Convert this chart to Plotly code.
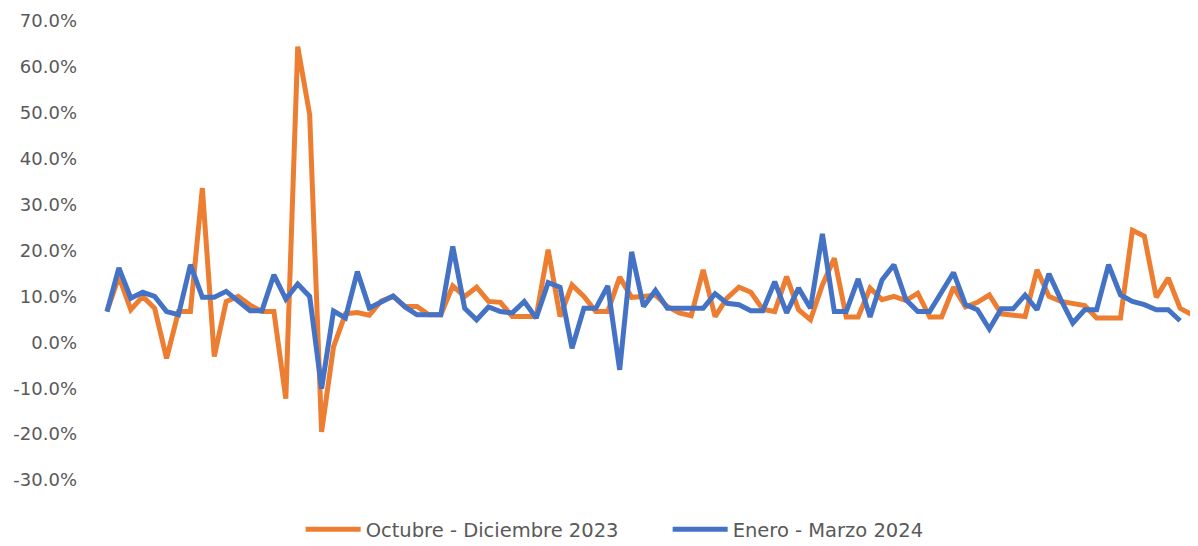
import plotly.graph_objects as go

# Daily variation (percent)
oct_dic_2023 = [6.7, 14.3, 7.1, 10.0, 7.4, -3.5, 6.7, 6.7, 33.6, -3.1,
                8.9, 10.0, 8.1, 6.7, 6.7, -12.3, 64.4, 49.6, -19.5, -1.0,
                6.2, 6.5, 5.9, 9.0, 10.0, 7.8, 7.8, 6.0, 6.0, 12.3,
                10.0, 12.0, 8.9, 8.7, 5.6, 5.6, 5.6, 20.2, 5.6, 12.5,
                10.0, 6.7, 6.7, 14.2, 9.8, 10.0, 10.3, 7.8, 6.4, 5.8,
                15.8, 5.6, 9.6, 12.0, 10.9, 7.2, 6.7, 14.3, 7.1, 4.9,
                12.5, 18.3, 5.5, 5.5, 11.8, 9.3, 10.0, 9.1, 10.7, 5.5,
                5.5, 12.0, 7.7, 8.7, 10.3, 6.2, 6.0, 5.6, 15.8, 10.0,
                8.9, 8.5, 8.0, 5.3, 5.3, 5.3, 24.4, 23.1, 9.8, 14.0,
                7.4, 6.0]

ene_mar_2024 = [6.7, 16.2, 9.6, 10.9, 10.0, 6.7, 6.0, 16.9, 9.8, 9.8,
                11.1, 9.0, 6.9, 6.9, 14.7, 9.4, 12.7, 10.0, -10.1, 6.8,
                5.3, 15.4, 7.5, 8.8, 10.1, 7.7, 6.0, 6.0, 6.0, 20.9,
                7.4, 4.9, 7.7, 6.7, 6.4, 8.9, 5.3, 13.0, 12.0, -1.3,
                7.4, 7.4, 12.3, -6.0, 19.7, 7.8, 11.3, 7.4, 7.4, 7.3,
                7.4, 10.6, 8.5, 8.2, 6.9, 6.9, 13.2, 6.4, 11.8, 7.4,
                23.6, 6.7, 6.7, 13.8, 5.5, 13.6, 16.9, 9.3, 6.7, 6.7,
                11.1, 15.2, 8.2, 7.1, 2.9, 7.3, 7.3, 10.3, 7.1, 14.9,
                9.3, 4.2, 7.1, 7.1, 16.9, 10.3, 8.9, 8.2, 7.1, 7.1,
                4.7]

dias = list(range(1, len(oct_dic_2023) + 1))
y_ticks = [-30, -20, -10, 0, 10, 20, 30, 40, 50, 60, 70]
y_ticktext = [f"{t:.1f}%" for t in y_ticks]
nombres = ["Octubre - Diciembre 2023", "Enero - Marzo 2024"]
colores = ["#ED7D31", "#4472C4"]

fig = go.Figure()
for nombre, serie, color in zip(nombres, [oct_dic_2023, ene_mar_2024], colores):
    fig.add_trace(go.Scatter(
        x=dias[:len(serie)],
        y=[v / 100 for v in serie],
        mode="lines",
        name=nombre,
        line=dict(color=color, width=5),
    ))

# page body has an 8px default margin, so the figure is 8px smaller
fig.update_layout(
    width=1190, height=538,
    margin=dict(l=93, r=0, t=13, b=66, autoexpand=False),
    paper_bgcolor="white", plot_bgcolor="white",
    font=dict(family="DejaVu Sans, sans-serif", size=18, color="#595959"),
    showlegend=True,
    legend=dict(orientation="h", x=0.182, xanchor="left", y=-0.108, yanchor="middle",
                font=dict(size=19.5, color="#595959"), itemwidth=55,
                entrywidth=297, entrywidthmode="pixels"),
    xaxis=dict(range=[0.5, len(oct_dic_2023) + 0.5], showticklabels=False,
               showgrid=False, zeroline=False, showline=False, ticks="",
               automargin=False),
    yaxis=dict(range=[-0.30, 0.70], tickvals=[t / 100 for t in y_ticks], ticktext=y_ticktext,
               showgrid=False, zeroline=False, showline=False, ticks="",
               ticklabelstandoff=23, automargin=False),
)

fig.write_html("out.html")
